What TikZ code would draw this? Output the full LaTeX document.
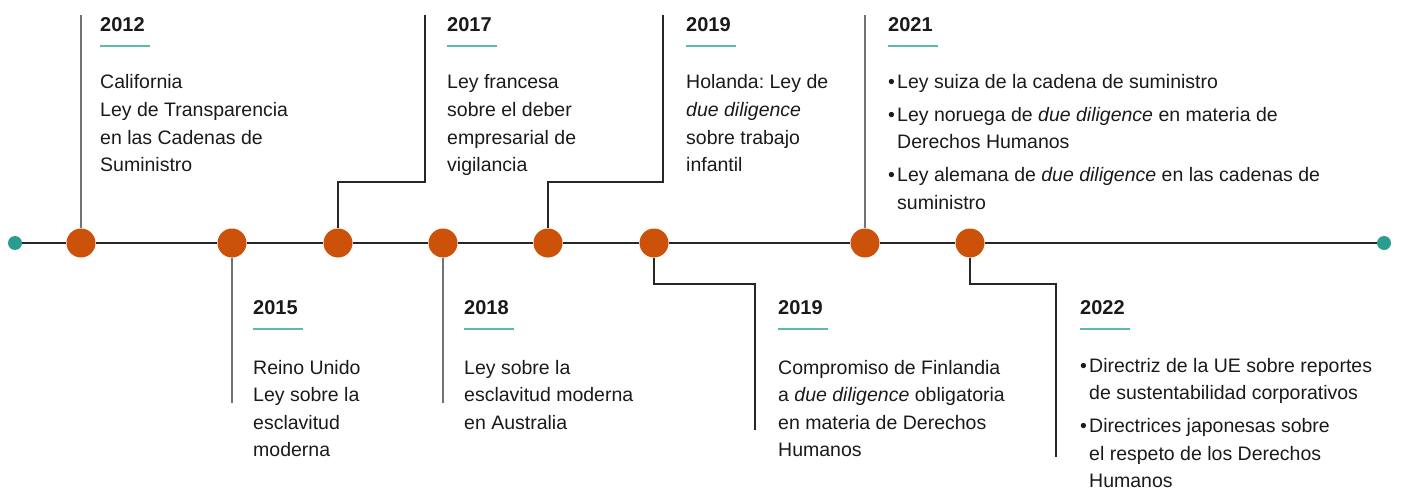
\documentclass[tikz,border=0pt]{standalone}
\usepackage{fontspec}
\setmainfont{Liberation Sans}
\usetikzlibrary{positioning}
\definecolor{rust}{HTML}{CB5208}
\definecolor{tealdot}{HTML}{2A9D8F}
\definecolor{rulecol}{HTML}{5DB8AD}
\definecolor{ink}{HTML}{1A1A1A}
\newcommand{\bul}{\makebox[9pt][l]{\textbullet}}
\newcommand{\ind}{\hspace*{9pt}}
\frenchspacing

\begin{document}
\begin{tikzpicture}[x=1pt,y=-1pt,
  every node/.style={inner sep=0pt,text=ink},
  dot/.style={circle,fill=rust,minimum size=29pt},
  enddot/.style={circle,fill=tealdot,minimum size=14pt},
  year/.style={anchor=base west,font=\fontsize{20}{24}\selectfont\bfseries},
  % base of a multi-line node = baseline of its last line
  body/.style={anchor=base west,align=left,font=\fontsize{19.5}{27.5}\selectfont},
  stem/.style={draw=black!55,line width=1.2pt},
  lead/.style={draw=black!85,line width=1.1pt},
  rule/.style={draw=rulecol,line width=1.6pt}]
\useasboundingbox (0,0) rectangle (1402,492);

% timeline
\node[enddot] (s) at (15,243) {};
\node[dot] (d12) at (81,243) {};
\node[dot] (d15) at (232,243) {};
\node[dot] (d17) at (338,243) {};
\node[dot] (d18) at (443,243) {};
\node[dot] (d19a) at (548,243) {};
\node[dot] (d19b) at (654,243) {};
\node[dot] (d21) at (865,243) {};
\node[dot] (d22) at (970,243) {};
\node[enddot] (e) at (1384,243) {};
\draw[lead] (s) -- (d12) -- (d15) -- (d17) -- (d18) -- (d19a) -- (d19b) -- (d21) -- (d22) -- (e);

% connectors
\coordinate (k12) at (81,15);
\coordinate (k15) at (232,403);
\coordinate (b17) at (425,182);
\coordinate (k17) at (425,15);
\coordinate (k18) at (443,403);
\coordinate (b19a) at (663,182);
\coordinate (k19a) at (663,15);
\coordinate (b19b) at (755,284);
\coordinate (k19b) at (755,430);
\coordinate (k21) at (865,15);
\coordinate (b22) at (1056,284);
\coordinate (k22) at (1056,457);
\draw[stem] (d12) -- (k12);
\draw[stem] (d15) -- (k15);
\draw[lead] (d17) |- (b17) -- (k17);
\draw[stem] (d18) -- (k18);
\draw[lead] (d19a) |- (b19a) -- (k19a);
\draw[lead] (d19b) |- (b19b) -- (k19b);
\draw[stem] (d21) -- (k21);
\draw[lead] (d22) |- (b22) -- (k22);

% top labels
\node[year] (y12) at (100,32) {2012};
\draw[rule] (y12.base west) ++(0,14) -- ++(50,0);
\node[body] (t12) at (100,171.5) {California\\Ley de Transparencia\\en las Cadenas de\\Suministro};

\node[year] (y17) at (447,32) {2017};
\draw[rule] (y17.base west) ++(0,14) -- ++(50,0);
\node[body] (t17) at (447,171.5) {Ley francesa\\sobre el deber\\empresarial de\\vigilancia};

\node[year] (y19a) at (686,32) {2019};
\draw[rule] (y19a.base west) ++(0,14) -- ++(50,0);
\node[body] (t19a) at (686,171.5) {Holanda: Ley de\\\textit{due diligence}\\sobre trabajo\\infantil};

\node[year] (y21) at (888,32) {2021};
\draw[rule] (y21.base west) ++(0,14) -- ++(50,0);
\node[body] (t21) at (888,209) {\bul Ley suiza de la cadena de suministro\\[5.5pt]\bul Ley noruega de \textit{due diligence} en materia de\\\ind Derechos Humanos\\[5.5pt]\bul Ley alemana de \textit{due diligence} en las cadenas de\\\ind suministro};

% bottom labels
\node[year] (y15) at (253,314) {2015};
\draw[rule] (y15.base west) ++(0,15) -- ++(50,0);
\node[body] (t15) at (253,456.5) {Reino Unido\\Ley sobre la\\esclavitud\\moderna};

\node[year] (y18) at (464,314) {2018};
\draw[rule] (y18.base west) ++(0,15) -- ++(50,0);
\node[body] (t18) at (464,429) {Ley sobre la\\esclavitud moderna\\en Australia};

\node[year] (y19b) at (778,314) {2019};
\draw[rule] (y19b.base west) ++(0,15) -- ++(50,0);
\node[body] (t19b) at (778,456.5) {Compromiso de Finlandia\\a \textit{due diligence} obligatoria\\en materia de Derechos\\Humanos};

\node[year] (y22) at (1080,314) {2022};
\draw[rule] (y22.base west) ++(0,15) -- ++(50,0);
\node[body] (t22) at (1080,487.5) {\bul Directriz de la UE sobre reportes\\\ind de sustentabilidad corporativos\\[5.5pt]\bul Directrices japonesas sobre\\\ind el respeto de los Derechos\\\ind Humanos};
\end{tikzpicture}
\end{document}
